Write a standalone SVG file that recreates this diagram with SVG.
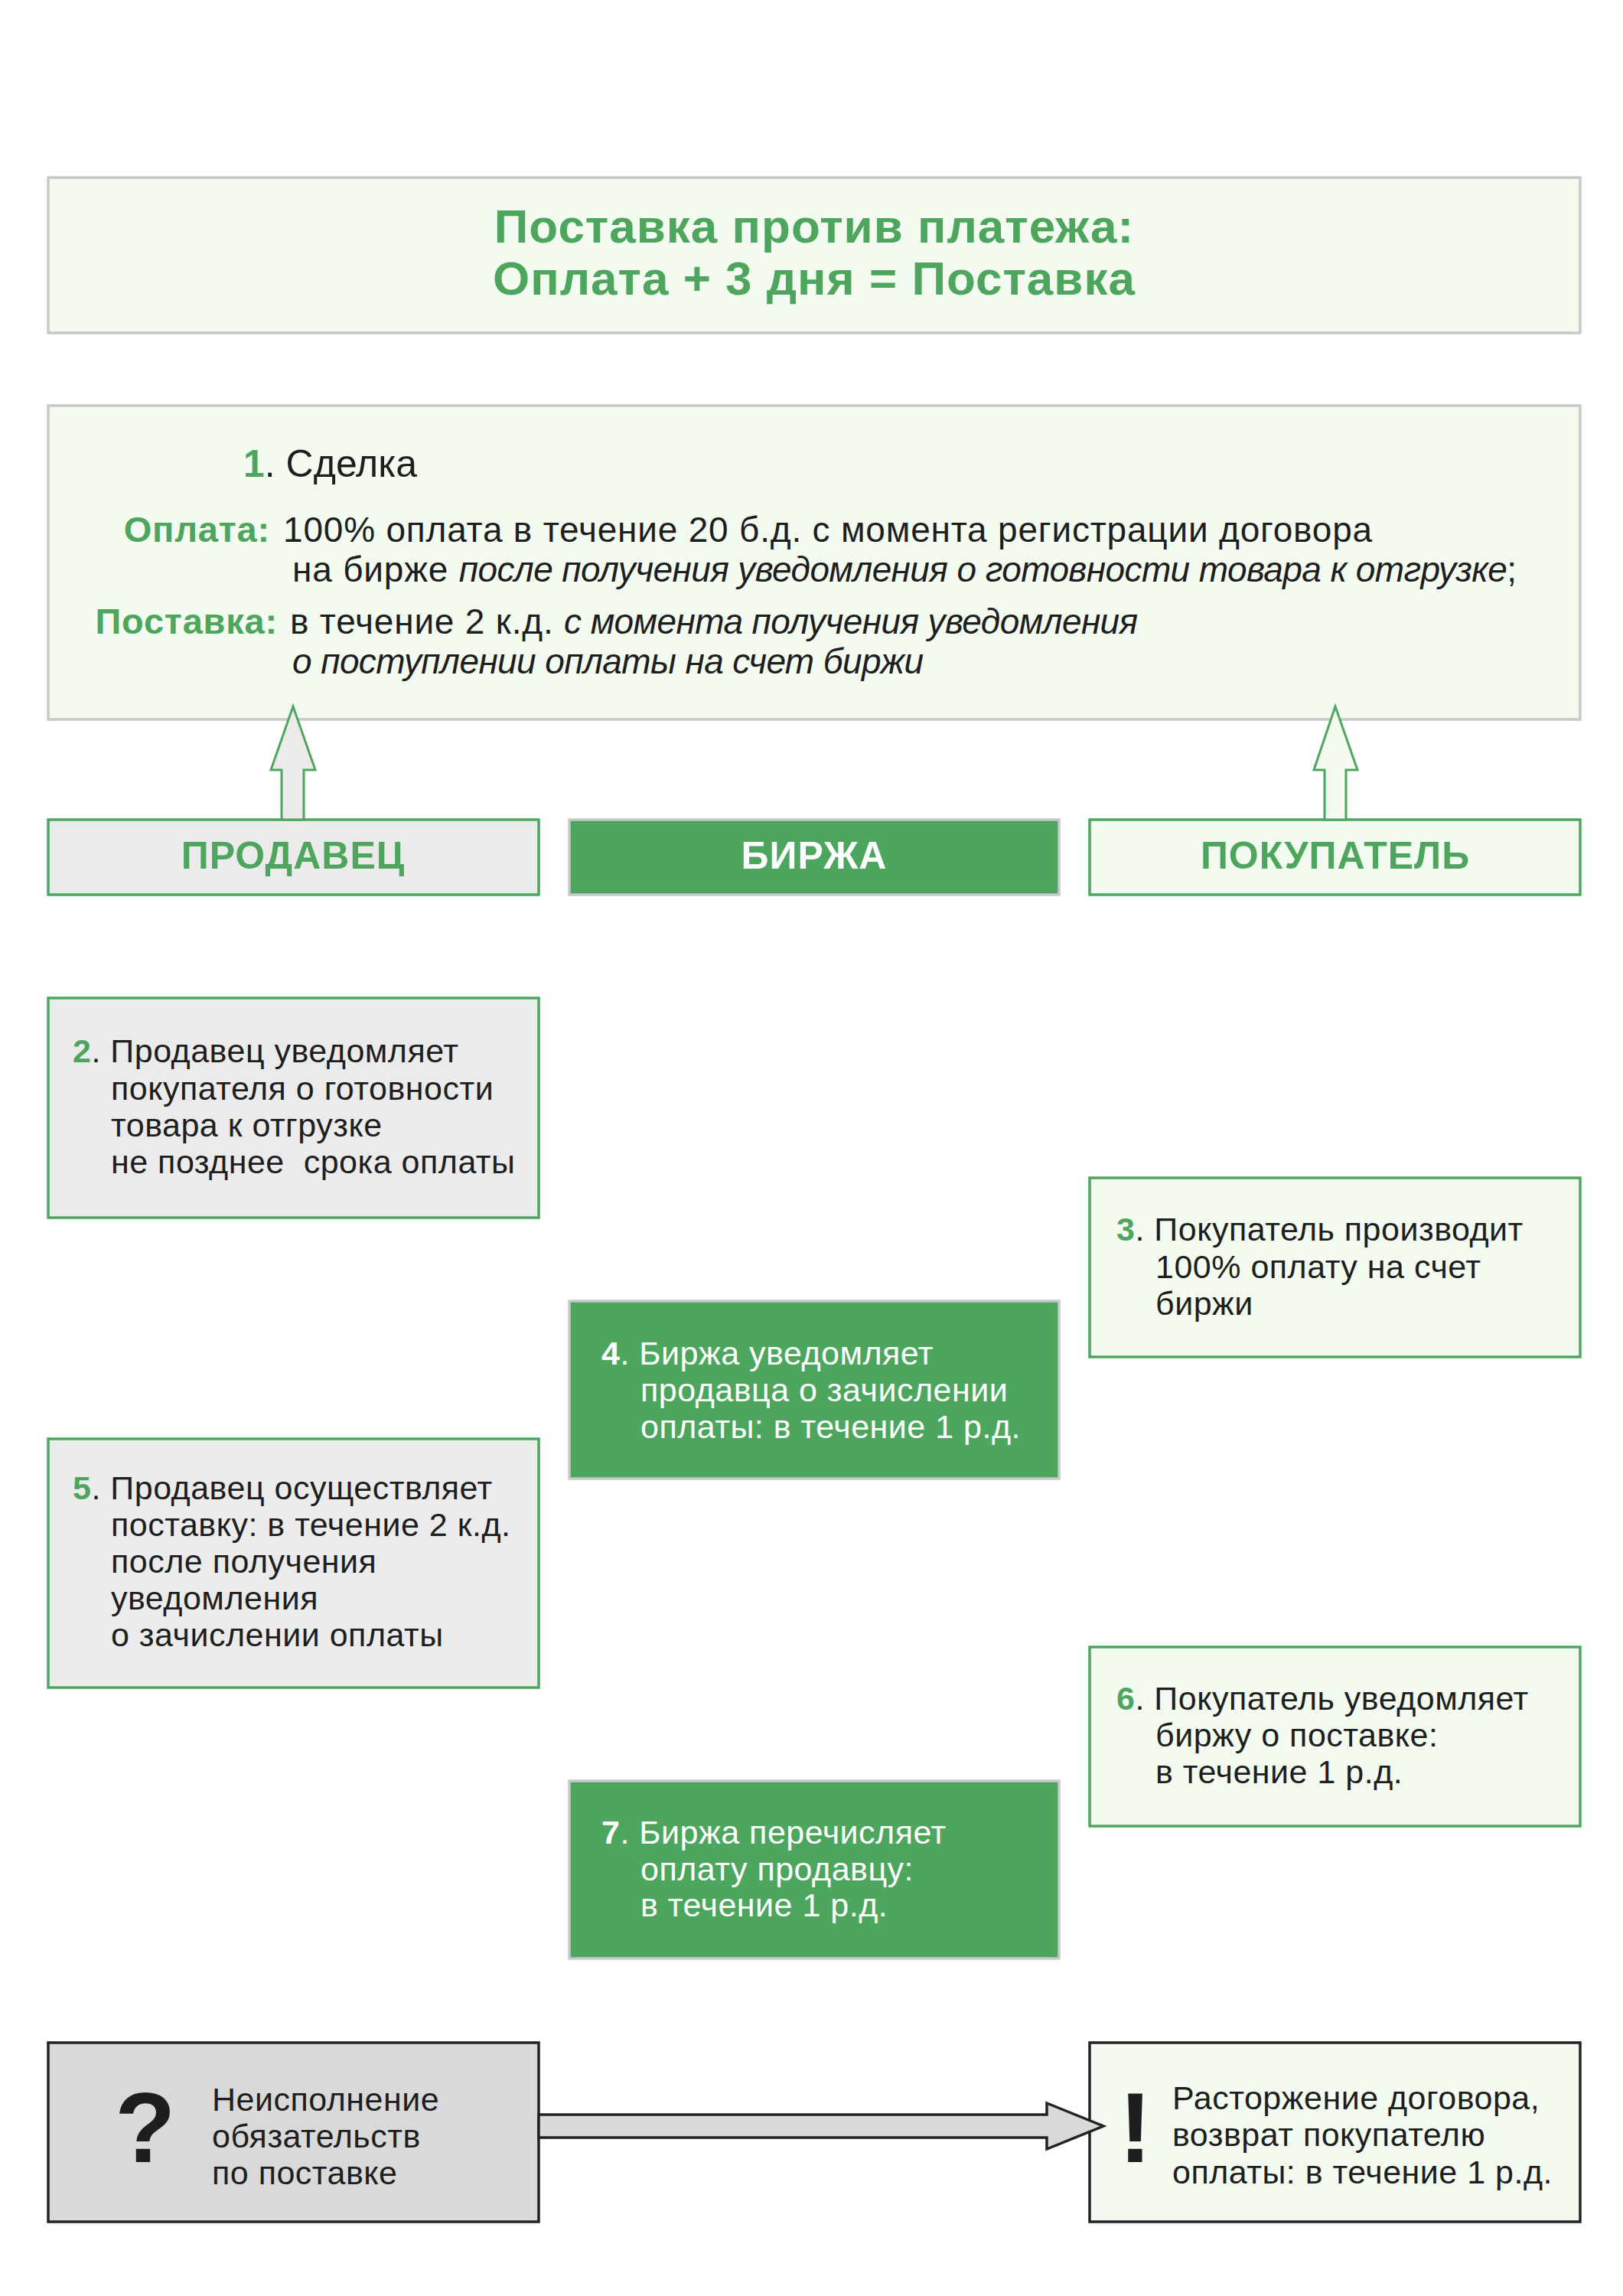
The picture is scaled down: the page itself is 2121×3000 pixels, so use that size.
<svg xmlns="http://www.w3.org/2000/svg" width="2121" height="3000" viewBox="0 0 2121 3000">
<style>
text{font-family:"Liberation Sans",Arial,sans-serif;fill:#1e1e1e}
.t{font-size:62px;font-weight:bold;fill:#4ea65e;text-anchor:middle;letter-spacing:1px}
.b{font-size:46px;letter-spacing:0.8px}
.lbl{font-size:47px;font-weight:bold;fill:#4ea65e;text-anchor:end;letter-spacing:0.8px}
.s{font-size:43px;letter-spacing:0.5px}
.w{fill:#ffffff}
.n{font-weight:bold;fill:#4ea65e}
.nw{font-weight:bold;fill:#ffffff}
.i{font-style:italic;letter-spacing:-0.6px}
.h{font-size:50px;font-weight:bold;text-anchor:middle;letter-spacing:1px}
.g{fill:#4ea65e}
.lg{fill:#f3fbf1;stroke:#c8c8c8;stroke-width:3.5}
.gr{fill:#ebebeb;stroke:#4ea65e;stroke-width:3.5}
.lgg{fill:#f3fbf1;stroke:#4ea65e;stroke-width:3.5}
.dg{fill:#4ca65e;stroke:#c8c8c8;stroke-width:3.5}
.dk1{fill:#d9d9d9;stroke:#222;stroke-width:3.5}
.dk2{fill:#f3fbf1;stroke:#222;stroke-width:3.5}
</style>
<rect width="2121" height="3000" fill="#ffffff"/>
<g id="title">
<rect class="lg" x="63" y="232" width="2002" height="203"/>
<text class="t" x="1064" y="317">Поставка против платежа:</text>
<text class="t" x="1064" y="385">Оплата + 3 дня = Поставка</text>
</g>
<g id="step1">
<rect class="lg" x="63" y="530" width="2002" height="410"/>
<text x="318" y="623" style="font-size:50px"><tspan class="n">1</tspan>. Сделка</text>
<text class="lbl" x="353" y="708">Оплата:</text>
<text class="b" x="370" y="708">100% оплата в течение 20 б.д. с момента регистрации договора</text>
<text class="b" x="382" y="760">на бирже <tspan class="i">после получения уведомления о готовности товара к отгрузке</tspan>;</text>
<text class="lbl" x="363" y="828">Поставка:</text>
<text class="b" x="379" y="828">в течение 2 к.д. <tspan class="i">с момента получения уведомления</tspan></text>
<text class="b i" x="382" y="880">о поступлении оплаты на счет биржи</text>
</g>
<g id="seller">
<rect class="gr" x="63" y="1071" width="641" height="98"/>
<text class="h g" x="383" y="1135">ПРОДАВЕЦ</text>
</g>
<g id="exchange">
<rect class="dg" x="744" y="1071" width="640" height="98"/>
<text class="h w" x="1064" y="1135">БИРЖА</text>
</g>
<g id="buyer">
<rect class="lgg" x="1424" y="1071" width="641" height="98"/>
<text class="h g" x="1745" y="1135">ПОКУПАТЕЛЬ</text>
</g>
<g id="step2">
<rect class="gr" x="63" y="1304" width="641" height="287"/>
<text class="s" x="95" y="1388"><tspan class="n">2</tspan>. Продавец уведомляет</text>
<text class="s" x="145" y="1437">покупателя о готовности</text>
<text class="s" x="145" y="1485">товара к отгрузке</text>
<text class="s" x="145" y="1533" xml:space="preserve">не позднее  срока оплаты</text>
</g>
<g id="step3">
<rect class="lgg" x="1424" y="1539" width="641" height="234"/>
<text class="s" x="1459" y="1621"><tspan class="n">3</tspan>. Покупатель производит</text>
<text class="s" x="1510" y="1670">100% оплату на счет</text>
<text class="s" x="1510" y="1718">биржи</text>
</g>
<g id="step4">
<rect class="dg" x="744" y="1700" width="640" height="232"/>
<text class="s w" x="786" y="1783"><tspan class="nw">4</tspan>. Биржа уведомляет</text>
<text class="s w" x="837" y="1831">продавца о зачислении</text>
<text class="s w" x="837" y="1879">оплаты: в течение 1 р.д.</text>
</g>
<g id="step5">
<rect class="gr" x="63" y="1880" width="641" height="325"/>
<text class="s" x="95" y="1959"><tspan class="n">5</tspan>. Продавец осуществляет</text>
<text class="s" x="145" y="2007">поставку: в течение 2 к.д.</text>
<text class="s" x="145" y="2055">после получения</text>
<text class="s" x="145" y="2103">уведомления</text>
<text class="s" x="145" y="2151">о зачислении оплаты</text>
</g>
<g id="step6">
<rect class="lgg" x="1424" y="2152" width="641" height="234"/>
<text class="s" x="1459" y="2234"><tspan class="n">6</tspan>. Покупатель уведомляет</text>
<text class="s" x="1510" y="2282">биржу о поставке:</text>
<text class="s" x="1510" y="2330">в течение 1 р.д.</text>
</g>
<g id="step7">
<rect class="dg" x="744" y="2327" width="640" height="232"/>
<text class="s w" x="786" y="2409"><tspan class="nw">7</tspan>. Биржа перечисляет</text>
<text class="s w" x="837" y="2457">оплату продавцу:</text>
<text class="s w" x="837" y="2504">в течение 1 р.д.</text>
</g>
<g id="failure">
<rect class="dk1" x="63" y="2669" width="641" height="234"/>
<text x="150" y="2825" style="font-size:130px;font-weight:bold;fill:#1e1e1e">?</text>
<text class="s" x="277" y="2758">Неисполнение</text>
<text class="s" x="277" y="2806">обязательств</text>
<text class="s" x="277" y="2854">по поставке</text>
</g>
<g id="termination">
<rect class="dk2" x="1424" y="2669" width="641" height="234"/>
<text x="1462" y="2825" style="font-size:130px;font-weight:bold;fill:#1e1e1e">!</text>
<text class="s" x="1532" y="2756">Расторжение договора,</text>
<text class="s" x="1532" y="2804">возврат покупателю</text>
<text class="s" x="1532" y="2853">оплаты: в течение 1 р.д.</text>
</g>
<g id="connectors">
<polygon points="368,1071 368,1006 354,1006 383,923 412,1006 397,1006 397,1071" fill="#ebebeb" stroke="#4ea65e" stroke-width="3"/>
<polygon points="1731,1071 1731,1006 1717,1006 1745,923 1774,1006 1759,1006 1759,1071" fill="#f3fbf1" stroke="#4ea65e" stroke-width="3"/>
<polygon points="704,2763 1368,2763 1368,2748 1442,2778 1368,2808 1368,2793 704,2793" fill="#d9d9d9" stroke="#222" stroke-width="3.5"/>
</g>
</svg>
